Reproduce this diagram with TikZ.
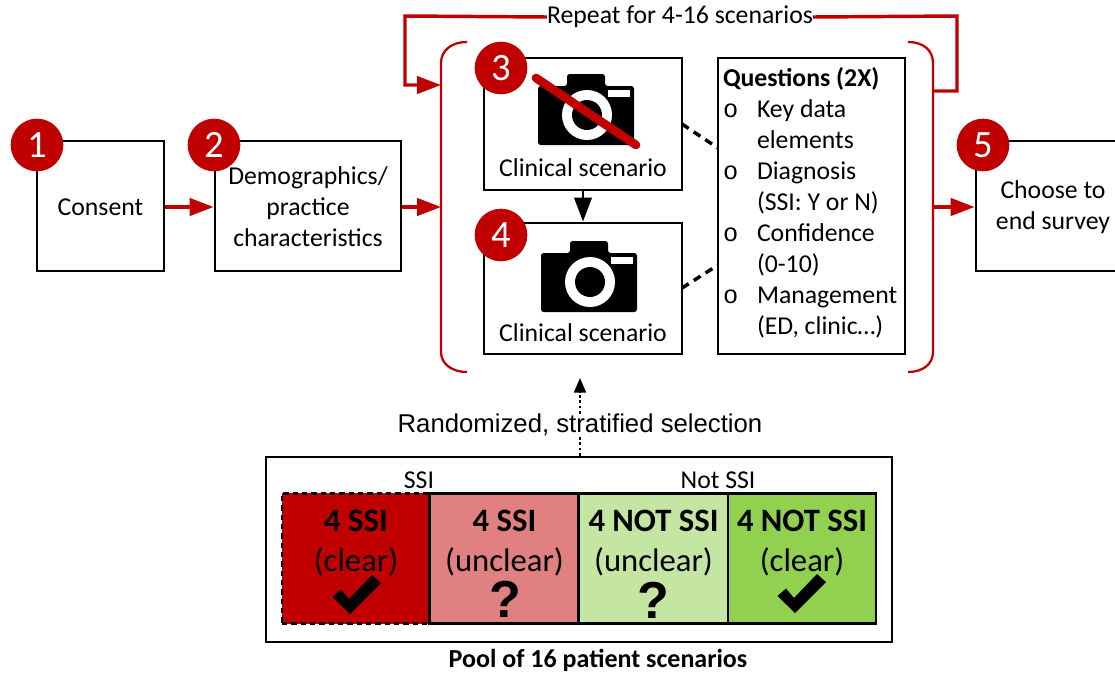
\documentclass[tikz,border=0pt]{standalone}
\usepackage{fontspec}
\setmainfont{Carlito}
\newfontfamily\arialf{Liberation Sans}
\newfontfamily\monof{Liberation Mono}
\usetikzlibrary{arrows.meta}
\definecolor{rd}{HTML}{C00000}
\definecolor{cellb}{HTML}{E08080}
\definecolor{cellc}{HTML}{C5E6A3}
\definecolor{celld}{HTML}{92D050}
\newcommand{\pxbox}[7][]{\node[boxn,#1,minimum width={(#5-#3)*0.75pt},minimum height={(#6-#4)*0.75pt}] (#2) at ({(#3+#5)/2},{(#4+#6)/2}) {#7};}
\newcommand{\camera}[3]{%
 \begin{scope}[shift={(#1,#2)}]
  \fill[black,rounded corners=2pt] (0,12) -- (29,12) -- (29,0) -- (67,0) -- (67,12) -- (96,12) -- (96,71) -- (0,71) -- cycle;
  \fill[white] (70,16) rectangle (92,23);
  \fill[white] (49,41) circle (25);
  \fill[black] (49,41) circle (15);
 \end{scope}}
\newcommand{\chk}[2]{\fill[black,shift={(#1,#2)}] (-24.5,-1) -- (-16,-8.5) -- (-8,1) -- (15,-23) -- (24,-15) -- (-7,16) -- cycle;}
\tikzset{x=0.75pt,y=-0.75pt,
 txt/.style={inner sep=0pt,font=\fontsize{19.3}{23.25}\selectfont},
 boxn/.style={draw=black,line width=2.1pt,fill=white,inner sep=0pt},
 badge/.style={circle,fill=rd,minimum size=39.5pt,inner sep=0pt,text=white,font=\fontsize{29}{29}\selectfont},
 redarrow/.style={draw=rd,line width=2.6pt,-{Triangle[length=18pt,width=13pt]}},
 redline/.style={draw=rd,line width=2.6pt},
 brace/.style={draw=rd,line width=1.7pt},
 linkd/.style={draw=black,line width=2.6pt,dash pattern=on 6pt off 4.5pt},
 cellt/.style={draw=black,line width=2.1pt,inner sep=0pt},
 cellx/.style={inner sep=0pt,align=flush center,font=\fontsize{24.5}{30}\selectfont},
 ques/.style={inner sep=0pt,font=\arialf\fontsize{39}{39}\bfseries\selectfont}
}
\newcommand{\qb}{\makebox[25.5pt][l]{\monof\fontsize{19}{19}\selectfont o}}
\newcommand{\qi}{\hspace*{25.5pt}}
\begin{document}
\begin{tikzpicture}
\useasboundingbox (0,0) rectangle (1115,672);
% process boxes
\pxbox{b1}{37}{141}{164}{271}{}
\node[txt] (t1x) at (100.5,207.5) {Consent};
\pxbox{b2}{215}{141}{401}{271}{}
\node[txt,align=flush center] (t2x) at (308,207) {Demographics/\\practice\\characteristics};
\pxbox{b3}{484}{58}{682}{190}{}
\pxbox{b4}{484}{223}{682}{354}{}
\pxbox{b5}{976}{141}{1130}{271}{}
\node[txt,align=flush center] (t5) at (1053,207.5) {Choose to\\end survey};
\pxbox{q}{718}{58}{905}{354}{}
\node[txt,align=flush left,text width=179*0.75pt] (qt) at (812.5,203) {\textbf{Questions (2X)}\\\qb Key data\\\qi elements\\\qb Diagnosis\\\qi (SSI: Y or N)\\\qb Confidence\\\qi (0-10)\\\qb Management\\\qi (ED, clinic\ldots)};
% cameras
\camera{538}{74}{}
\camera{541}{241}{}
\draw[rd,line width=6.5pt,line cap=round] (536,78) -- (636,145);
\node[txt] (c3) at (583,168) {Clinical scenario};
\node[txt] (c4) at (583,333) {Clinical scenario};
% badges
\node[badge] (n1) at (37,145) {1};
\node[badge] (n2) at (214,145) {2};
\node[badge] (n3) at (501,68) {3};
\node[badge] (n4) at (501,235) {4};
\node[badge] (n5) at (983,145) {5};
% brackets
\coordinate (bl) at (441,207);
\coordinate (blt) at (441,85);
\coordinate (br) at (933,207);
\coordinate (brt) at (933,91);
\draw[brace] (467,42) .. controls (452,42) and (441,50) .. (441,63) -- (441,352) .. controls (441,364) and (452,372) .. (467,372);
\draw[brace] (908,42) .. controls (923,42) and (933,50) .. (933,63) -- (933,352) .. controls (933,364) and (923,372) .. (908,372);
% connectors
\draw[redarrow] (b1.east |- bl) -- (b2.west |- bl);
\draw[redarrow] (b2.east |- bl) -- (bl);
\draw[redarrow] (br) -- (b5.west |- br);
\draw[-{Triangle[length=18pt,width=13pt]},line width=2.2pt] (b3.south) -- (b4.north);
\coordinate (l3a) at (682,124);\coordinate (l3b) at (718,148);
\coordinate (l4a) at (682,288);\coordinate (l4b) at (718,265);
\draw[linkd] (l3a) -- (l3b);
\draw[linkd] (l4a) -- (l4b);
\node[txt] (rep) at (680,17) {Repeat for 4-16 scenarios};
\draw[redline] (brt) -- (957,91) -- (957,16) -- (rep.east);
\draw[redarrow] (rep.west) -- (405,16) -- (405,85) -- (blt);
% selection
\node[inner sep=0pt,font=\arialf\fontsize{19.3}{22}\selectfont] (sel) at (580,425) {Randomized, stratified selection};
\pxbox{pool}{266}{457}{892}{642}{}
\coordinate (seltop) at (580,378);
\draw[line width=1.5pt,dash pattern=on 2pt off 2pt] (pool.north -| seltop) -- (sel.south -| seltop);
\draw[line width=1.5pt,dash pattern=on 2pt off 2pt,-{Triangle[length=11pt,width=9pt]}] (sel.north -| seltop) -- (seltop);
\node[txt] (ssi) at (419,480) {SSI};
\node[txt] (nssi) at (718,480) {Not SSI};
% cells
\node[cellt,fill=rd,dash pattern=on 4pt off 3pt,minimum width=111pt,minimum height=98pt] (c1) at (356,558.5) {};
\node[cellt,fill=cellb,minimum width=112pt,minimum height=98pt] (c2) at (504.5,558.5) {};
\node[cellt,fill=cellc,minimum width=112pt,minimum height=98pt] (c5) at (653.5,558.5) {};
\node[cellt,fill=celld,minimum width=111pt,minimum height=98pt] (c6) at (802,558.5) {};
\node[cellx] (t1) at (356,543) {\textbf{4 SSI}\\(clear)};
\node[cellx] (t2) at (504.5,543) {\textbf{4 SSI}\\(unclear)};
\node[cellx] (t3) at (653.5,543) {\textbf{4 NOT SSI}\\(unclear)};
\node[cellx] (t4) at (802,543) {\textbf{4 NOT SSI}\\(clear)};
\chk{357}{598}
\chk{802}{597}
\node[ques] (q1) at (505,599) {?};
\node[ques] (q2) at (653,600) {?};
\node[inner sep=0pt,font=\fontsize{19.5}{22}\bfseries\selectfont] (ptitle) at (598,660) {Pool of 16 patient scenarios};
\end{tikzpicture}
\end{document}
